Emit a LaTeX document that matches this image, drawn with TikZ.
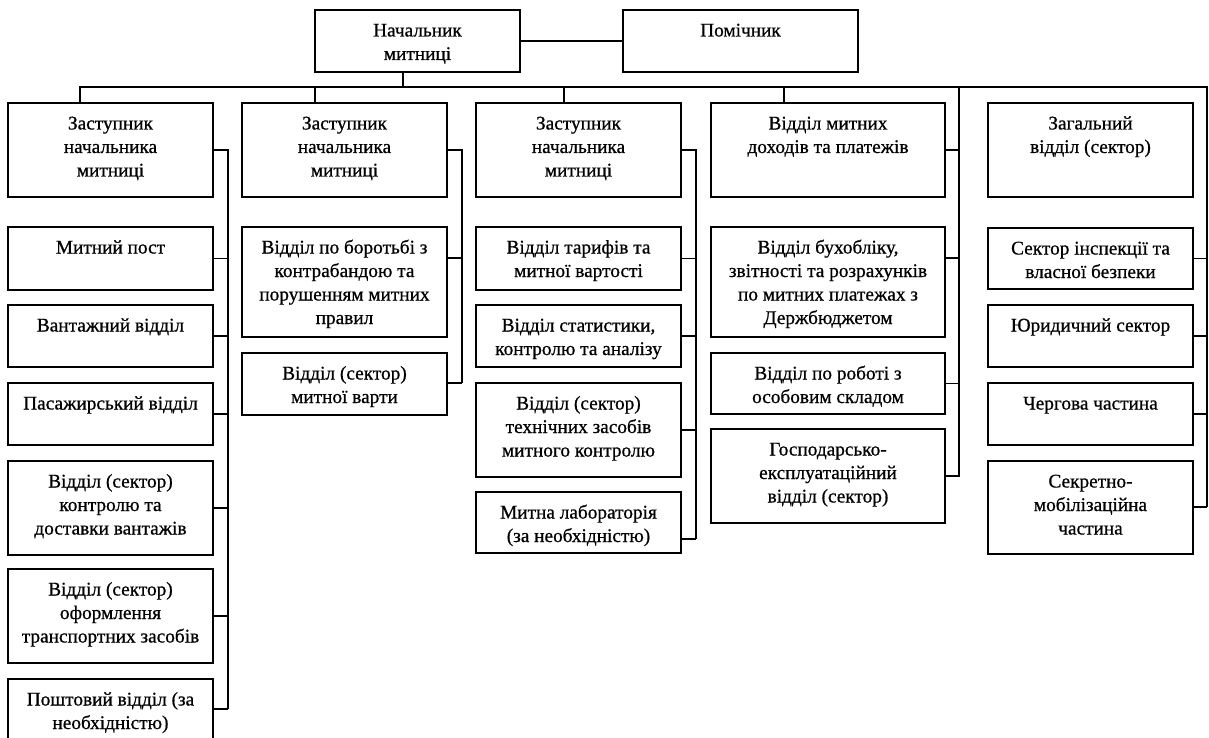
\documentclass[tikz,border=0pt]{standalone}
\usepackage{fontspec}
\setmainfont{Liberation Serif}[FakeBold=0.7]
\usetikzlibrary{calc}
\newcommand\obox[6]{%
  \pgfmathsetmacro\myW{#4-#2}\pgfmathsetmacro\myH{#5-#3}%
  \node[boxst, minimum width=\myW pt, minimum height=\myH pt] (#1) at (#2,#3) {};
  \node[txt] (#1-t) at ($(#1.north)+(0,26.5)$) {\parbox[t]{\myW pt}{\centering #6}};
}
\begin{document}
\begin{tikzpicture}[x=1pt,y=-1pt,
  boxst/.style={draw, line width=1.5pt, inner sep=0pt, outer sep=0pt, anchor=north west},
  txt/.style={anchor=base, inner sep=0pt, font=\fontsize{19.3}{23.5}\selectfont},
  conn/.style={draw, line width=1.5pt}]
\useasboundingbox[fill=white] (0,0) rectangle (1209,738);
% top
\obox{nach}{315}{10}{520}{72}{Начальник\\митниці}
\obox{pom}{623}{10}{858}{72}{Помічник}
% column 1
\obox{c1}{8}{103}{213}{197}{Заступник\\начальника\\митниці}
\obox{a1}{8}{227}{213}{290}{Митний пост}
\obox{a2}{8}{305}{213}{367}{Вантажний відділ}
\obox{a3}{8}{383}{213}{445}{Пасажирський відділ}
\obox{a4}{8}{461}{213}{555}{Відділ (сектор)\\контролю та\\доставки вантажів}
\obox{a5}{8}{569}{213}{663}{Відділ (сектор)\\оформлення\\транспортних засобів}
\obox{a6}{8}{679}{213}{741}{Поштовий відділ (за\\необхідністю)}
% column 2
\obox{c2}{242}{103}{447}{197}{Заступник\\начальника\\митниці}
\obox{b1}{242}{227}{447}{337}{Відділ по боротьбі з\\контрабандою та\\порушенням митних\\правил}
\obox{b2}{242}{353}{447}{415}{Відділ (сектор)\\митної варти}
% column 3
\obox{c3}{476}{103}{681}{197}{Заступник\\начальника\\митниці}
\obox{d1}{476}{227}{681}{290}{Відділ тарифів та\\митної вартості}
\obox{d2}{476}{305}{681}{367}{Відділ статистики,\\контролю та аналізу}
\obox{d3}{476}{383}{681}{477}{Відділ (сектор)\\технічних засобів\\митного контролю}
\obox{d4}{476}{492}{681}{553}{Митна лабораторія\\(за необхідністю)}
% column 4
\obox{c4}{711}{103}{945}{197}{Відділ митних\\доходів та платежів}
\obox{e1}{711}{227}{945}{337}{Відділ бухобліку,\\звітності та розрахунків\\по митних платежах з\\Держбюджетом}
\obox{e2}{711}{353}{945}{414}{Відділ по роботі з\\особовим складом}
\obox{e3}{711}{429}{945}{523}{Господарсько-\\експлуатаційний\\відділ (сектор)}
% column 5
\obox{c5}{988}{103}{1193}{197}{Загальний\\відділ (сектор)}
\obox{f1}{988}{228}{1193}{289}{Сектор інспекції та\\власної безпеки}
\obox{f2}{988}{305}{1193}{367}{Юридичний сектор}
\obox{f3}{988}{383}{1193}{445}{Чергова частина}
\obox{f4}{988}{461}{1193}{554}{Секретно-\\мобілізаційна\\частина}
% coordinates
\coordinate (busL) at (80,87);
\coordinate (busN) at (403,87);
\coordinate (bus2) at (315,87);
\coordinate (bus3) at (564,87);
\coordinate (bus4) at (784,87);
\coordinate (v4top) at (959,87);
\coordinate (busR) at (1207,87);
\coordinate (v1end) at (228,709);
\coordinate (v2end) at (462,383);
\coordinate (v3end) at (696,539);
\coordinate (v4end) at (959,477);
\coordinate (v5end) at (1207,507);
% connectors
\path[conn] (nach) -- (pom);
\path[conn] (nach.south -| busN) -- (busN);
\path[conn] (c1.north -| busL) -- (busL) -- (busR) -- (v5end);
\path[conn] (bus2) -- (bus2 |- c2.north);
\path[conn] (bus3) -- (bus3 |- c3.north);
\path[conn] (bus4) -- (bus4 |- c4.north);
\path[conn] (v4top) -- (v4end);
% column 1
\path[conn] (c1.east) -- (c1.east -| v1end) -- (v1end);
\path[conn] (a1.east) -- (a1.east -| v1end);
\path[conn] (a2.east) -- (a2.east -| v1end);
\path[conn] (a3.east) -- (a3.east -| v1end);
\path[conn] (a4.east) -- (a4.east -| v1end);
\path[conn] (a5.east) -- (a5.east -| v1end);
\path[conn] (a6.east |- v1end) -- (v1end);
% column 2
\path[conn] (c2.east) -- (c2.east -| v2end) -- (v2end);
\path[conn] (b1.east |- 0,258) -- (v2end |- 0,258);
\path[conn] (b2.east |- v2end) -- (v2end);
% column 3
\path[conn] (c3.east) -- (c3.east -| v3end) -- (v3end);
\path[conn] (d1.east) -- (d1.east -| v3end);
\path[conn] (d2.east) -- (d2.east -| v3end);
\path[conn] (d3.east) -- (d3.east -| v3end);
\path[conn] (d4.east |- v3end) -- (v3end);
% column 4
\path[conn] (c4.east) -- (c4.east -| v4end);
\path[conn] (e1.east |- 0,258) -- (v4end |- 0,258);
\path[conn] (e2.east) -- (e2.east -| v4end);
\path[conn] (e3.east) -- (e3.east -| v4end);
% column 5
\path[conn] (f1.east) -- (f1.east -| v5end);
\path[conn] (f2.east) -- (f2.east -| v5end);
\path[conn] (f3.east) -- (f3.east -| v5end);
\path[conn] (f4.east |- v5end) -- (v5end);
\end{tikzpicture}
\end{document}
